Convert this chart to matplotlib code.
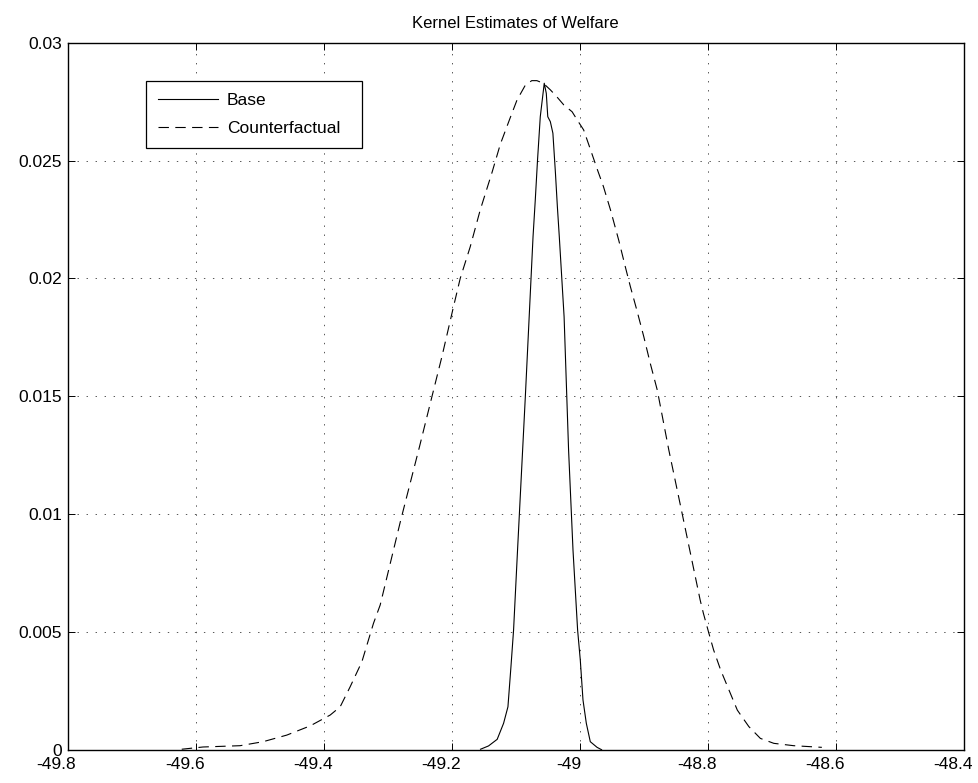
import matplotlib
matplotlib.use("Agg")
import matplotlib.pyplot as plt
import matplotlib.transforms as mtransforms
import numpy as np

plt.rcParams['font.family'] = ['Liberation Sans', 'DejaVu Sans']
plt.rcParams['lines.scale_dashes'] = False

# Base (solid) kernel estimate
base_x = [-49.155, -49.1425, -49.129, -49.119, -49.1122, -49.1075, -49.1034, -49.0972,
          -49.085, -49.073, -49.0695, -49.066, -49.0617, -49.0555, -49.0523, -49.050,
          -49.046, -49.042, -49.038, -49.035, -49.032, -49.0245, -49.0175, -49.0106,
          -49.0034, -48.9992, -48.995, -48.9898, -48.9836, -48.973, -48.966]
base_y = [0.00002, 0.00016, 0.00044, 0.00112, 0.00182, 0.00352, 0.00508, 0.00847,
          0.0150, 0.02177, 0.02333, 0.02502, 0.02686, 0.02828, 0.02785, 0.02686,
          0.02665, 0.02616, 0.02446, 0.02304, 0.02177, 0.01837, 0.01272, 0.00847,
          0.00508, 0.0038, 0.00211, 0.00112, 0.00034, 0.0001, 0.0]

# Counterfactual (dashed) kernel estimate
cf_x = [-49.6216, -49.5883, -49.5305, -49.4945, -49.4575, -49.4211, -49.3898, -49.3742,
        -49.3586, -49.3403, -49.3222, -49.3117, -49.28, -49.2503, -49.2309, -49.2153,
        -49.1972, -49.1867, -49.1711, -49.1555, -49.137, -49.124, -49.109, -49.098,
        -49.085, -49.075, -49.067, -49.057, -49.046, -49.036, -49.025, -49.012,
        -49.004, -48.994, -48.984, -48.973, -48.963, -48.952, -48.939, -48.929,
        -48.921, -48.911, -48.900, -48.890, -48.879, -48.869, -48.861, -48.84,
        -48.812, -48.807, -48.799, -48.791, -48.780, -48.767, -48.754, -48.736,
        -48.718, -48.697, -48.666, -48.622]
cf_y = [0.00002, 0.000115, 0.00017, 0.00034, 0.00062, 0.00101, 0.00147, 0.00182,
        0.00267, 0.00373, 0.00536, 0.00614, 0.0097, 0.01286, 0.01498, 0.01668,
        0.0188, 0.0200, 0.02134, 0.0229, 0.0245, 0.02570, 0.02679, 0.02757,
        0.0282, 0.02839, 0.02839, 0.02828, 0.0280, 0.02771, 0.02736, 0.02707,
        0.02672, 0.0263, 0.02552, 0.02465, 0.02389, 0.0229, 0.02160, 0.0205,
        0.01965, 0.01866, 0.01752, 0.0164, 0.01526, 0.01385, 0.01272, 0.0100,
        0.00635, 0.00579, 0.005, 0.00423, 0.00338, 0.00253, 0.00168, 0.00098,
        0.00048, 0.00027, 0.00017, 0.0001]

x_ticks = [-49.8, -49.6, -49.4, -49.2, -49.0, -48.8, -48.6, -48.4]
x_labels = ['-49.8', '-49.6', '-49.4', '-49.2', '-49', '-48.8', '-48.6', '-48.4']
y_ticks = [0, 0.005, 0.01, 0.015, 0.02, 0.025, 0.03]
y_labels = ['0', '0.005', '0.01', '0.015', '0.02', '0.025', '0.03']

fig = plt.figure(figsize=(9.79, 7.83), dpi=100)
ax = fig.add_axes([67.5 / 979, (783 - 749.7) / 783, (964 - 67.5) / 979, (749.7 - 42.7) / 783])

ax.plot(base_x, base_y, color='black', lw=0.8, label='Base')
ax.plot(cf_x, cf_y, color='black', lw=0.8, dashes=(7.5, 4.6), label='Counterfactual')

ax.set_xlim(-49.8, -48.4)
ax.set_ylim(0, 0.03)
ax.set_xticks(x_ticks)
ax.set_xticklabels(x_labels)
ax.set_yticks(y_ticks)
ax.set_yticklabels(y_labels)

ax.tick_params(direction='in', length=5, width=0.7, top=True, right=True,
               labelsize=12.5, colors='black')
ax.tick_params(axis='x', pad=5.5)
ax.tick_params(axis='y', pad=4.0)
for s in ax.spines.values():
    s.set_linewidth(1.0)
    s.set_color('black')

ax.grid(True, color='#555555', linestyle=(0, (1.0, 5.5)), linewidth=0.7)
ax.set_axisbelow(True)

offset = mtransforms.ScaledTranslation(-11 / 100, 0, fig.dpi_scale_trans)
for lab in ax.get_xticklabels():
    lab.set_transform(lab.get_transform() + offset)

ax.set_title('Kernel Estimates of Welfare', fontsize=12, pad=10.5)

leg = ax.legend(loc='upper left',
                bbox_to_anchor=((145.7 - 67.5) / 896.5, (749.7 - 80.7) / 707, 216 / 896.5, 0.0),
                mode='expand', borderaxespad=0, fontsize=12.5, handlelength=3.45,
                handletextpad=0.5, borderpad=0.72, labelspacing=0.7,
                fancybox=False, framealpha=1, edgecolor='black')
leg.get_frame().set_linewidth(0.9)

fig.savefig('out.png', dpi=100)
